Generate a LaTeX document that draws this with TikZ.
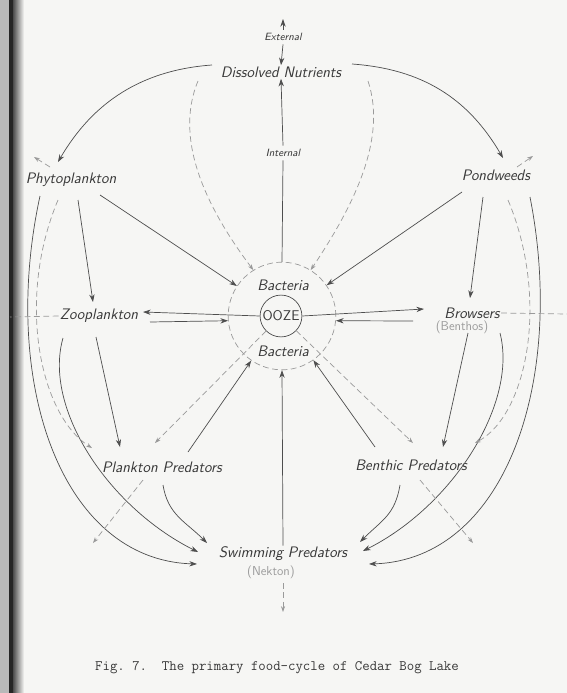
\documentclass[tikz,border=0pt]{standalone}
\usepackage{xcolor}
\usepackage{tikz}
\usetikzlibrary{arrows.meta, positioning, calc}
\definecolor{paper}{HTML}{F6F6F4}
\definecolor{ink}{HTML}{383838}
\definecolor{pencil}{HTML}{4E4E4E}
\definecolor{dline}{HTML}{9A9A9A}
\definecolor{faint}{HTML}{9C9C9C}

\begin{document}
\begin{tikzpicture}[
    x=0.03cm, y=-0.03cm,
    tag/.style={font=\fontsize{13}{15}\selectfont\sffamily\itshape, text=ink, inner sep=1pt},
    smalltag/.style={font=\fontsize{9}{11}\selectfont\sffamily\itshape, text=ink, inner sep=3pt},
    faintag/.style={font=\fontsize{11}{13}\selectfont\sffamily, text=faint, inner sep=1pt},
    arrow/.style={draw=pencil, line width=0.6pt, -{Stealth[length=6.5pt,width=4.5pt]}},
    dasharrow/.style={draw=dline, line width=0.6pt, dash pattern=on 5pt off 3pt, -{Stealth[length=5pt,width=3.5pt]}},
    dashline/.style={draw=dline, line width=0.6pt, dash pattern=on 5pt off 3pt}
]

% Paper
\useasboundingbox (0,0) rectangle (567,693);
\fill[paper] (0,0) rectangle (567,693);
\fill[gray!55] (0,0) rectangle (9,693);
\fill[black!85] (9,0) rectangle (13,693);
\shade[left color=black!70, right color=paper] (13,0) rectangle (24,693);

% Nutrients
\node[tag] (dn) at (281,72) {Dissolved Nutrients};
\node[smalltag] (ext) at (283,37) {External};
\node[smalltag] (intl) at (283,153) {Internal};

% Producers and consumers
\node[tag] (phyto) at (71,180) {Phytoplankton};
\node[tag] (pond) at (496,175) {Pondweeds};
\node[tag] (zoo) at (99,316) {Zooplankton};
\node[tag] (brow) at (472,313) {Browsers};
\node[faintag] (benth) at (462,327) {(Benthos)};
\node[tag] (plp) at (162,467) {Plankton Predators};
\node[tag] (benp) at (411,465) {Benthic Predators};
\node[tag] (swp) at (283,554) {Swimming Predators};
\node[faintag] (nek) at (271,572) {(Nekton)};

% Ooze and bacteria
\node[circle, draw=dline, line width=0.6pt, dash pattern=on 5pt off 3pt, minimum size=91.9pt, inner sep=0pt] (bact) at (282,316) {};
\node[circle, draw=pencil, line width=0.6pt, minimum size=35.7pt, inner sep=0pt, font=\fontsize{12}{14}\selectfont\sffamily, text=ink] (ooze) at (281,316) {OOZE};
\node[tag] (bactT) at (283,285) {Bacteria};
\node[tag] (bactB) at (283,351) {Bacteria};

% Caption
\node[font=\fontsize{12.3}{14}\selectfont\ttfamily, text=ink] (cap) at (277,668) {\frenchspacing Fig. 7.\ \ The primary food-cycle of Cedar Bog Lake};

% Outflow ends
\coordinate (extout) at (283,19);
\coordinate (phout) at (34,157);
\coordinate (poout) at (533,156);
\coordinate (zout) at (10,317);
\coordinate (bout) at (567,314);
\coordinate (plout) at (93,543);
\coordinate (bpout) at (473,543);
\coordinate (swout) at (283,612);

% Top
\draw[arrow] (ext.north) -- (extout);
\draw[arrow] (ext.south) -- (dn.north);
\draw[pencil, line width=0.6pt] (bact.north) -- (intl.south);
\draw[arrow] (intl.north) -- (dn.south);
\draw[arrow] ($(dn)+(-69,-7)$) .. controls +(-70,5) and +(35,-60) .. ($(phyto)+(-13,-18)$);
\draw[arrow] ($(dn)+(71,-8)$) .. controls +(70,5) and +(-35,-60) .. ($(pond)+(7,-17)$);
\draw[dasharrow] ($(dn)+(-83,9)$) .. controls +(-25,60) and +(-45,-60) .. (bact.122);
\draw[dasharrow] ($(dn)+(87,9)$) .. controls +(20,60) and +(40,-60) .. (bact.58);

% Into the ooze
\draw[arrow] ($(phyto)+(29,15)$) -- (bact);
\draw[arrow] ($(pond)+(-34,17)$) -- (bact);
\draw[arrow] ($(zoo)+(51,6)$) -- (bact.185);
\draw[arrow] ($(brow)+(-59,8)$) -- (bact.-5);
\draw[arrow] ($(plp)+(26,-15)$) -- (bact);
\draw[arrow] ($(benp)+(-36,-18)$) -- (bact);
\draw[arrow] (swp.north) -- (bact.south);

% Out of the ooze
\draw[arrow] (ooze.west) -- ($(zoo)+(44,-4)$);
\draw[arrow] (ooze.east) -- ($(brow)+(-48,-4)$);
\draw[dasharrow] (ooze) -- ($(plp)+(-7,-24)$);
\draw[dasharrow] (ooze) -- ($(benp)+(2,-22)$);

% Left side
\draw[arrow] ($(phyto)+(7,20)$) -- ($(zoo)+(-6,-14)$);
\draw[arrow] ($(zoo)+(-3,21)$) -- ($(plp)+(-42,-20)$);
\draw[arrow] ($(phyto)+(-31,16)$) .. controls +(-40,184) and +(-137,-4) .. ($(swp)+(-86,10)$);
\draw[arrow] ($(zoo)+(-36,22)$) .. controls +(-20,70) and +(-90,-45) .. ($(swp)+(-85,-2)$);
\draw[dasharrow] ($(phyto)+(-13,20)$) .. controls +(-42,100) and +(-52,-33) .. ($(plp)+(-70,-19)$);
\draw[arrow] ($(plp)+(1,18)$) .. controls +(5,30) and +(-22,-22) .. ($(swp)+(-76,-11)$);

% Right side
\draw[arrow] ($(pond)+(-13,22)$) -- ($(brow)+(-2,-15)$);
\draw[arrow] ($(brow)+(-4,20)$) -- ($(benp)+(32,-18)$);
\draw[arrow] ($(pond)+(34,22)$) .. controls +(36,183) and +(137,-4) .. ($(swp)+(86,10)$);
\draw[arrow] ($(brow)+(28,20)$) .. controls +(18,70) and +(90,-45) .. ($(swp)+(80,-3)$);
\draw[dasharrow] ($(pond)+(12,25)$) .. controls +(42,100) and +(52,-28) .. ($(benp)+(64,-22)$);
\draw[arrow] ($(benp)+(-11,20)$) .. controls +(-5,30) and +(22,-22) .. ($(swp)+(77,-12)$);

% Losses
\draw[dasharrow] ($(phyto)+(-21,-13)$) -- (phout);
\draw[dasharrow] ($(pond)+(21,-8)$) -- (poout);
\draw[dashline] (zoo.west) -- (zout);
\draw[dashline] (brow.east) -- (bout);
\draw[dasharrow] ($(plp)+(-19,13)$) -- (plout);
\draw[dasharrow] ($(benp)+(9,15)$) -- (bpout);
\draw[dasharrow] ($(nek)+(12,11)$) -- (swout);

\end{tikzpicture}
\end{document}
